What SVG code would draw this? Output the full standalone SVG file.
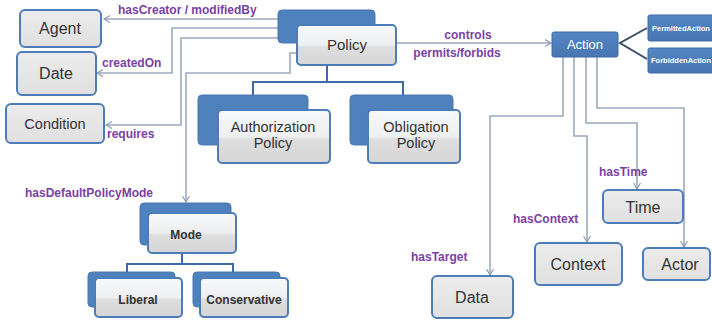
<svg xmlns="http://www.w3.org/2000/svg" width="712" height="328" viewBox="0 0 712 328">
<defs>
<linearGradient id="gl" x1="0" y1="0" x2="0" y2="1">
<stop offset="0" stop-color="#F7F8FA"/><stop offset="0.5" stop-color="#EEEFF1"/><stop offset="0.55" stop-color="#DEDEDE"/><stop offset="1" stop-color="#D6D6D6"/>
</linearGradient>
<linearGradient id="gs" x1="0" y1="0" x2="0" y2="1">
<stop offset="0" stop-color="#ECECEC"/><stop offset="1" stop-color="#E0E0E0"/>
</linearGradient>
<linearGradient id="gb" x1="0" y1="0" x2="0" y2="1">
<stop offset="0" stop-color="#5585C2"/><stop offset="1" stop-color="#4776B3"/>
</linearGradient>
<marker id="ar" markerWidth="8" markerHeight="8" refX="6" refY="4" orient="auto" markerUnits="userSpaceOnUse">
<path d="M0,0.5 L6,4 L0,7.5" fill="none" stroke="#8E9DB5" stroke-width="1.2"/>
</marker>
</defs>
<style>
.box{fill:url(#gs);stroke:#4D7DB8;stroke-width:2}
.back{fill:#4F81BD;stroke:#4A79B3;stroke-width:1}
.front{fill:url(#gl);stroke:#4D7DB8;stroke-width:2}
.blue{fill:url(#gb);stroke:#3F6CA6;stroke-width:1}
.t{font-family:"Liberation Sans",Arial,sans-serif;fill:#333;text-anchor:middle}
.tb{font-family:"Liberation Sans",Arial,sans-serif;fill:#333;text-anchor:middle;font-weight:bold;font-size:12px}
.w{font-family:"Liberation Sans",Arial,sans-serif;fill:#fff;text-anchor:middle}
.lbl{font-family:"Liberation Sans",Arial,sans-serif;fill:#7A3FA6;font-weight:bold;font-size:12px}
.c{fill:none;stroke:#9BA9C2;stroke-width:1.6}
.ca{fill:none;stroke:#9BA9C2;stroke-width:1.6;marker-end:url(#ar)}
.tree{fill:none;stroke:#3D6AA5;stroke-width:2}
.dk{fill:none;stroke:#3E4C66;stroke-width:2}
</style>
<g id="connectors">
<path class="ca" d="M278,19 H104"/>
<path class="ca" d="M278,28 H172 V73 H97"/>
<path class="ca" d="M278,38 H181 V125 H106"/>
<path class="ca" d="M297,53 H290 V73 H186 V202"/>
<path class="ca" d="M396,43 H551"/>
<path class="tree" d="M327,65 V82 M253,95 V82 H403 V95"/>
<path class="tree" d="M182,253 V264 M127,272 V264 H233 V272"/>
<path class="dk" d="M647,28 L620,43 L647,59"/>
<path class="ca" d="M563,57 V116 H490 V275"/>
<path class="ca" d="M574,57 V136 H587 V242"/>
<path class="ca" d="M586,57 V123 H637 V189"/>
<path class="ca" d="M597,57 V108 H684 V247"/>
<text class="lbl" x="118" y="14">hasCreator / modifiedBy</text>
<text class="lbl" x="102" y="67">createdOn</text>
<text class="lbl" x="107" y="138">requires</text>
<text class="lbl" x="25" y="197">hasDefaultPolicyMode</text>
<text class="lbl" x="468" y="39" text-anchor="middle">controls</text>
<text class="lbl" x="457" y="57" text-anchor="middle">permits/forbids</text>
<text class="lbl" x="599" y="176">hasTime</text>
<text class="lbl" x="513" y="223">hasContext</text>
<text class="lbl" x="411" y="261">hasTarget</text>
</g>
<g id="agent"><rect class="box" x="20" y="10" width="81" height="37" rx="5"/><text class="t" x="60" y="34" font-size="16">Agent</text></g>
<g id="date"><rect class="box" x="17" y="52" width="79" height="43" rx="5"/><text class="t" x="56" y="79" font-size="16">Date</text></g>
<g id="condition"><rect class="box" x="6" y="104" width="98" height="39" rx="5"/><text class="t" x="55" y="129" font-size="14.5">Condition</text></g>
<g id="policy"><rect class="back" x="278" y="10" width="97" height="33" rx="4"/><rect class="front" x="297" y="25" width="99" height="40" rx="4"/><text class="t" x="347" y="50" font-size="15">Policy</text></g>
<g id="authorization"><rect class="back" x="198" y="95" width="110" height="50" rx="4"/><rect class="front" x="218" y="110" width="112" height="53" rx="4"/><text class="t" x="273" y="132" font-size="14.5">Authorization</text><text class="t" x="273" y="148" font-size="14.5">Policy</text></g>
<g id="obligation"><rect class="back" x="350" y="95" width="103" height="50" rx="4"/><rect class="front" x="368" y="110" width="92" height="53" rx="4"/><text class="t" x="416" y="132" font-size="14.5">Obligation</text><text class="t" x="416" y="148" font-size="14.5">Policy</text></g>
<g id="mode"><rect class="back" x="140" y="203" width="91" height="42" rx="4"/><rect class="front" x="148" y="213" width="88" height="40" rx="4"/><text class="tb" x="186" y="239">Mode</text></g>
<g id="liberal"><rect class="back" x="88" y="272" width="87" height="35" rx="4"/><rect class="front" x="95" y="278" width="87" height="39" rx="4"/><text class="tb" x="138" y="304">Liberal</text></g>
<g id="conservative"><rect class="back" x="193" y="272" width="87" height="35" rx="4"/><rect class="front" x="200" y="278" width="88" height="39" rx="4"/><text class="tb" x="244" y="304" font-size="11.5">Conservative</text></g>
<g id="action"><rect class="blue" x="552" y="32" width="66" height="25" rx="2"/><text class="w" x="585" y="49" font-size="13">Action</text></g>
<g id="permittedaction"><rect class="blue" x="648" y="15" width="68" height="26" rx="2"/><text class="w" x="681" y="31" font-size="7.5" font-weight="bold">PermittedAction</text></g>
<g id="forbiddenaction"><rect class="blue" x="648" y="48" width="68" height="25" rx="2"/><text class="w" x="681" y="63" font-size="7.5" font-weight="bold">ForbiddenAction</text></g>
<g id="time"><rect class="box" x="603" y="190" width="80" height="33" rx="5"/><text class="t" x="643" y="213" font-size="16">Time</text></g>
<g id="context"><rect class="box" x="535" y="243" width="87" height="42" rx="5"/><text class="t" x="578" y="270" font-size="16">Context</text></g>
<g id="actor"><rect class="box" x="643" y="248" width="67" height="32" rx="5"/><text class="t" x="680" y="270" font-size="16">Actor</text></g>
<g id="data"><rect class="box" x="432" y="276" width="81" height="42" rx="5"/><text class="t" x="472" y="303" font-size="16">Data</text></g>
</svg>
